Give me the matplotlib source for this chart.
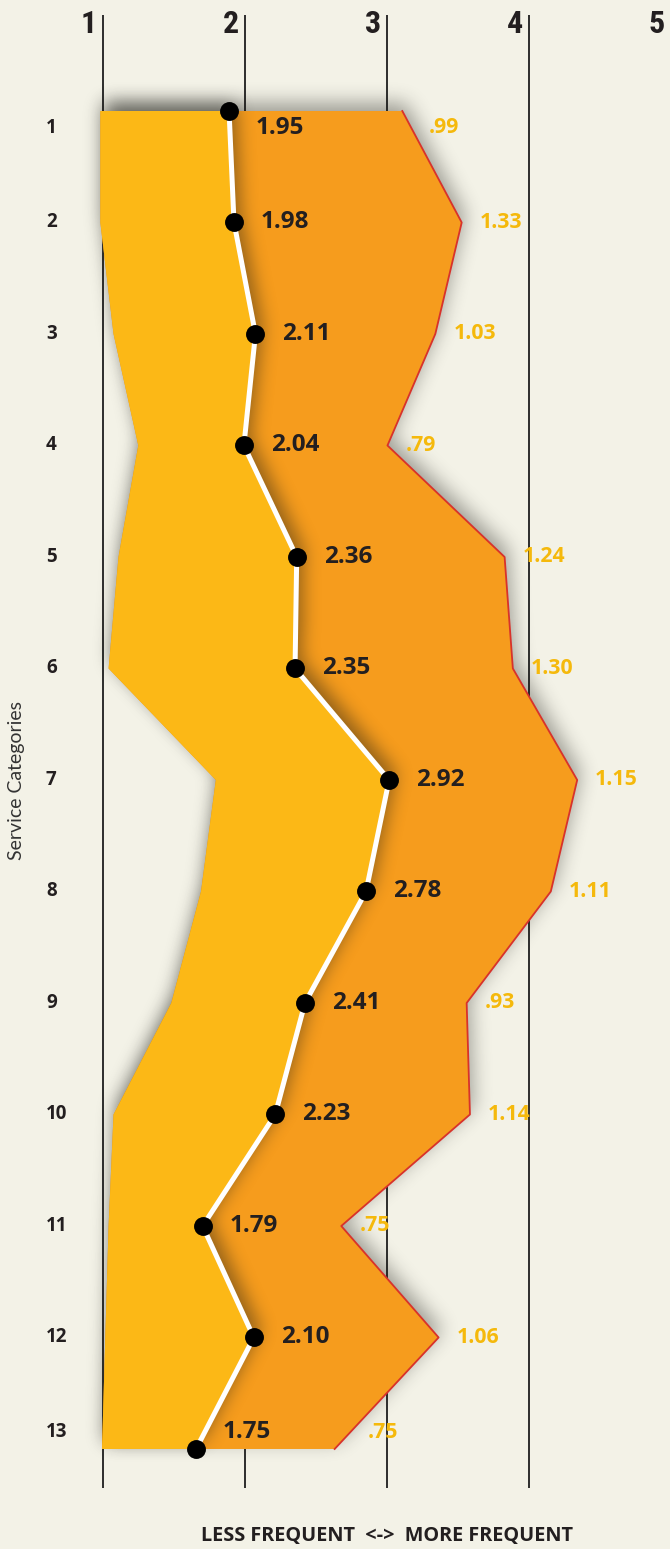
import numpy as np
import matplotlib
matplotlib.use("Agg")
import matplotlib.pyplot as plt
from matplotlib.path import Path
from matplotlib import transforms, font_manager

# ---- data -------------------------------------------------------------
categories = [str(i) for i in range(1, 14)]
means = [1.95, 1.98, 2.11, 2.04, 2.36, 2.35, 2.92, 2.78, 2.41, 2.23, 1.79, 2.10, 1.75]
std_devs = [0.99, 1.33, 1.03, 0.79, 1.24, 1.30, 1.15, 1.11, 0.93, 1.14, 0.75, 1.06, 0.75]
band_low = [1.17, 1.17, 1.25, 1.40, 1.28, 1.22, 1.87, 1.78, 1.60, 1.25, 1.22, 1.20, 1.18]
band_high = [3.00, 3.36, 3.20, 2.91, 3.62, 3.67, 4.06, 3.90, 3.39, 3.41, 2.63, 3.22, 2.59]
freq_ticks = [1, 2, 3, 4, 5]

# ---- style ------------------------------------------------------------
BG = "#F3F2E7"
YELLOW = "#FCB816"
ORANGE = "#F69C1D"
EDGE = "#D8322B"
GOLD = "#F5B90C"
INK = "#231F20"

installed = {f.name for f in font_manager.fontManager.ttflist}
narrow_candidates = ["Roboto Condensed", "Liberation Sans Narrow", "DejaVu Sans Condensed",
                     "Noto Sans Condensed", "Open Sans Condensed", "Roboto"]
NARROW = next((n for n in narrow_candidates if n in installed), "DejaVu Sans")
LABEL_FONT = "Open Sans" if "Open Sans" in installed else "DejaVu Sans"

W, H, DPI = 670, 1549, 100
fig = plt.figure(figsize=(W / DPI, H / DPI), dpi=DPI, facecolor=BG)
ax = fig.add_axes([0, 0, 1, 1])
XL = (0.5618, 4.6224)
YL = (13.897, 0.0045)
ax.set_xlim(*XL)
ax.set_ylim(*YL)
ax.axis("off")

rows = np.arange(1, len(categories) + 1)

# frequency scale with its own x axis (shares the category axis)
ax2 = ax.twiny()
ax2.set_xlim(0.2746, 4.993)
ax2.axis("off")
ax2.set_zorder(-1)
ax2.vlines(freq_ticks, 0.139, 13.35, color="#1E1E1E", lw=1.3)
lab_tr = transforms.offset_copy(ax2.transData, fig=fig, x=-6, y=0, units="dots")
for f in freq_ticks:
    ax2.text(f, 0.30, str(f), transform=lab_tr, ha="right", va="baseline",
             fontsize=23, fontweight="bold", color=INK,
             family=[NARROW, "DejaVu Sans"], fontstretch="condensed")

# ---- polygons ---------------------------------------------------------
band_poly = np.column_stack([
    np.concatenate([band_low, band_high[::-1]]),
    np.concatenate([rows, rows[::-1]]),
])
yellow_poly = np.column_stack([
    np.concatenate([band_low, means[::-1]]),
    np.concatenate([rows, rows[::-1]]),
])

# ---- soft shadows (rasterised on the pixel grid) ---------------------
xs = XL[0] + (np.arange(W) + 0.5) / W * (XL[1] - XL[0])
ys = YL[1] + (np.arange(H) + 0.5) / H * (YL[0] - YL[1])
gx, gy = np.meshgrid(xs, ys)
pts = np.column_stack([gx.ravel(), gy.ravel()])


def mask_of(poly):
    return Path(poly).contains_points(pts).reshape(H, W).astype(float)


def box_blur(a, r, axis):
    pad = [(0, 0)] * a.ndim
    pad[axis] = (r + 1, r)
    p = np.pad(a, pad, mode="edge")
    c = np.cumsum(p, axis=axis)
    n = a.shape[axis]
    hi = np.take(c, np.arange(2 * r + 1, 2 * r + 1 + n), axis=axis)
    lo = np.take(c, np.arange(0, n), axis=axis)
    return (hi - lo) / (2 * r + 1)


def soft(mask, r, dx, dy):
    m = np.roll(mask, (-dy, dx), axis=(0, 1))
    for _ in range(3):
        m = box_blur(m, r, 0)
        m = box_blur(m, r, 1)
    return m


def shadow_img(m, amax, rgb=(0.1, 0.1, 0.08)):
    img = np.zeros((H, W, 4))
    img[..., 0], img[..., 1], img[..., 2] = rgb
    img[..., 3] = np.clip(m * amax, 0, 1)
    return img


band_mask = mask_of(band_poly)
yellow_mask = mask_of(yellow_poly)
extent = (XL[0], XL[1], YL[0], YL[1])

ax.imshow(shadow_img(soft(band_mask, 9, 3, 8), 0.40), extent=extent,
          origin="upper", aspect="auto", interpolation="nearest", zorder=1)
ax.fill(band_poly[:, 0], band_poly[:, 1], color=ORANGE, lw=0, zorder=2)
ax.imshow(shadow_img(soft(yellow_mask, 8, 7, 8), 0.45), extent=extent,
          origin="upper", aspect="auto", interpolation="nearest", zorder=3)
ax.plot(band_high, rows, color=EDGE, lw=1.3, zorder=3.5)
ax.fill(yellow_poly[:, 0], yellow_poly[:, 1], color=YELLOW, lw=0, zorder=4)
ax.plot(means, rows, color="white", lw=3.6, zorder=5, solid_joinstyle="miter")
ax.plot(means, rows, "o", ms=13.6, color="black", mec="none", zorder=6)
ax.set_xlim(*XL)
ax.set_ylim(*YL)

# ---- labels -----------------------------------------------------------
label_y = np.clip(rows, 1.15, 12.85)
val_tr = transforms.offset_copy(ax.transData, fig=fig, x=27, y=0, units="dots")
sd_tr = transforms.offset_copy(ax.transData, fig=fig, x=18, y=0, units="dots")
row_tr = transforms.blended_transform_factory(ax.transAxes, ax.transData)
for i, name in enumerate(categories):
    ax.text(46 / W, label_y[i], name, transform=row_tr, ha="left", va="center",
            fontsize=13.5, fontweight="bold", color=INK, family=LABEL_FONT, zorder=7)
    ax.text(means[i], label_y[i], f"{means[i]:.2f}", transform=val_tr,
            ha="left", va="center", fontsize=17.5, fontweight="bold",
            color=INK, family=LABEL_FONT, zorder=7)
    sx = np.interp(label_y[i], rows, band_high)
    ax.text(sx, label_y[i], f"{std_devs[i]:.2f}".lstrip("0"), transform=sd_tr,
            ha="left", va="center", fontsize=15.3, fontweight="bold",
            color=GOLD, family=LABEL_FONT, zorder=7)

fig.text(17 / W, 1 - 780 / H, "Service Categories", rotation=90,
         ha="center", va="center", fontsize=14, color="#333333", family="Lato")
fig.text(387 / W, 1 - 1536 / H, "LESS FREQUENT  <->  MORE FREQUENT",
         ha="center", va="center", fontsize=14.3, fontweight="bold",
         color=INK, family=LABEL_FONT)

fig.savefig("out.png", dpi=DPI, facecolor=BG)
